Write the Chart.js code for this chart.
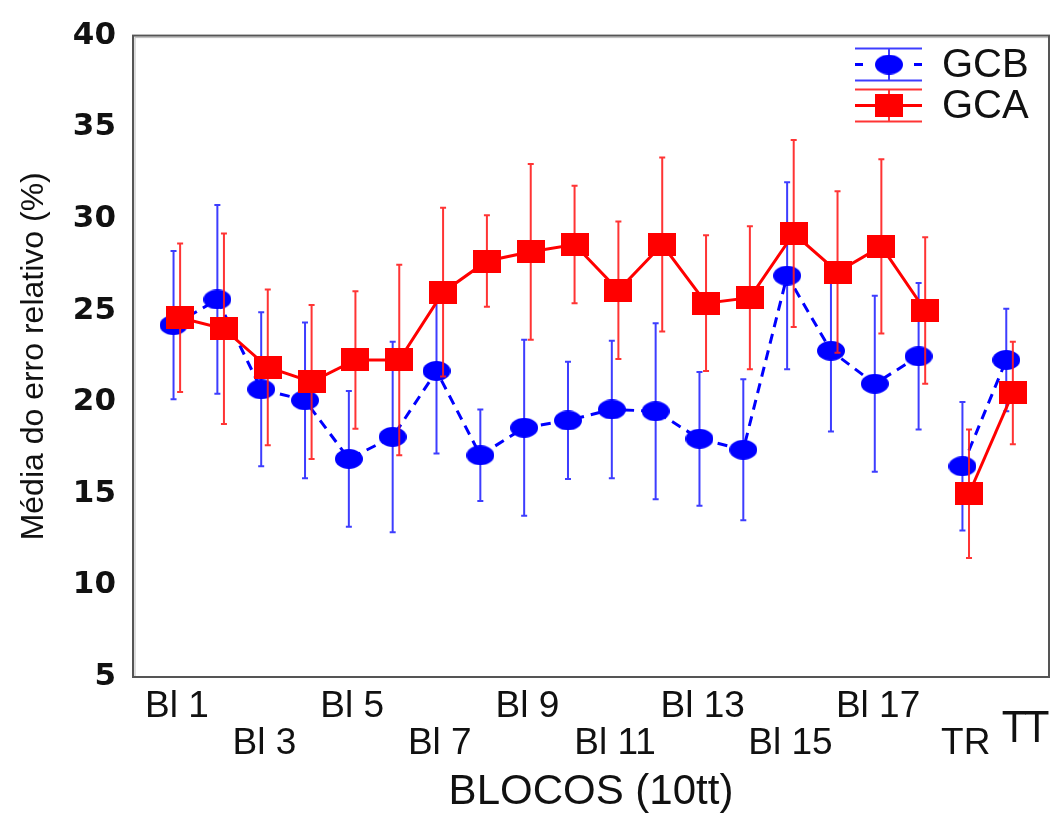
<!DOCTYPE html>
<html><head><meta charset="utf-8">
<script src="https://cdn.jsdelivr.net/npm/chart.js@4.4.1/dist/chart.umd.min.js"></script>
<style>html,body{margin:0;padding:0;background:#fff}#wrap{width:1051px;height:813px}</style>
</head><body><div id="wrap"><canvas id="c" width="1051" height="813"></canvas></div>
<script>
const categories = ['Bl 1','Bl 2','Bl 3','Bl 4','Bl 5','Bl 6','Bl 7','Bl 8','Bl 9','Bl 10','Bl 11','Bl 12','Bl 13','Bl 14','Bl 15','Bl 16','Bl 17','Bl 18','TR','TT'];
const gcbMean = [24.2,25.6,20.7,20.1,16.9,18.1,21.7,17.1,18.6,19.0,19.6,19.5,18.0,17.4,26.9,22.8,21.0,22.5,16.5,22.3];
const gcbErr  = [4.05,5.15,4.2,4.25,3.7,5.2,4.5,2.5,4.8,3.2,3.75,4.8,3.65,3.85,5.1,4.4,4.8,4.0,3.5,2.8];
const gcaMean = [24.6,24.0,21.9,21.1,22.3,22.3,26.0,27.7,28.2,28.6,26.1,28.6,25.4,25.7,29.2,27.1,28.5,25.0,15.0,20.5];
const gcaErr  = [4.05,5.2,4.25,4.2,3.75,5.2,4.6,2.5,4.8,3.2,3.75,4.75,3.7,3.9,5.1,4.4,4.75,4.0,3.5,2.8];
const seriesNames = ['GCB','GCA'];
const yTicks = [5,10,15,20,25,30,35,40];

const BLUE = '#0000ff', RED = '#ff0000';
const BLUE_BAR = 'rgba(40,40,255,0.9)', RED_BAR = 'rgba(255,30,30,0.9)';

function makeEllipse(w,h,color){const c=document.createElement('canvas');c.width=w;c.height=h;const g=c.getContext('2d');g.fillStyle=color;g.beginPath();g.ellipse(w/2,h/2,w/2,h/2,0,0,Math.PI*2);g.fill();return c;}
function makeRect(w,h,color){const c=document.createElement('canvas');c.width=w;c.height=h;const g=c.getContext('2d');g.fillStyle=color;g.fillRect(0,0,w,h);return c;}
const blueDot = makeEllipse(28,20,BLUE);
const redSq = makeRect(28,23,RED);

const errMap = {GCB: {err: gcbErr, color: BLUE_BAR}, GCA: {err: gcaErr, color: RED_BAR}};
const breakAfter = categories.indexOf('Bl 18');

const gcaData = gcaMean.map((v,i)=>({x:i+1+0.075,y:v}));
const gcbData = gcbMean.map((v,i)=>({x:i+1-0.075,y:v}));

const errorBars = {
  id:'errorBars',
  beforeDatasetDraw(chart,args){
    const ds = chart.data.datasets[args.index];
    const info = errMap[ds.label]; if(!info) return;
    const ctx = chart.ctx, ys = chart.scales.y;
    ctx.save(); ctx.strokeStyle = info.color; ctx.lineWidth = 2;
    args.meta.data.forEach((pt,i)=>{
      const v = ds.data[i].y, e = info.err[i];
      const t = ys.getPixelForValue(v+e), b = ys.getPixelForValue(v-e);
      ctx.beginPath(); ctx.moveTo(pt.x,t); ctx.lineTo(pt.x,b);
      ctx.moveTo(pt.x-3,t); ctx.lineTo(pt.x+3,t);
      ctx.moveTo(pt.x-3,b); ctx.lineTo(pt.x+3,b); ctx.stroke();
    });
    ctx.restore();
  }
};

const frameAndLegend = {
  id:'frameAndLegend',
  afterDraw(chart){
    const ctx = chart.ctx, a = chart.chartArea;
    ctx.save();
    ctx.strokeStyle = '#bbb'; ctx.lineWidth = 1;
    ctx.strokeRect(a.left+2, a.top+2, a.right-a.left-2, a.bottom-a.top-2);
    ctx.strokeStyle = '#555'; ctx.lineWidth = 2;
    ctx.strokeRect(a.left, a.top, a.right-a.left, a.bottom-a.top);
    const entries = [
      {name: seriesNames[0], img: blueDot, color: BLUE, bar: BLUE_BAR, dashed: true, cy: a.top+29},
      {name: seriesNames[1], img: redSq, color: RED, bar: RED_BAR, dashed: false, cy: a.top+70}
    ];
    const x0 = a.right-194, x1 = a.right-127, xm = a.right-160;
    entries.forEach(en=>{
      ctx.strokeStyle = en.bar; ctx.lineWidth = 2;
      ctx.beginPath();
      ctx.moveTo(x0,en.cy-16); ctx.lineTo(x1,en.cy-16);
      ctx.moveTo(x0,en.cy+16); ctx.lineTo(x1,en.cy+16);
      ctx.moveTo(xm,en.cy-16); ctx.lineTo(xm,en.cy+16);
      ctx.stroke();
      ctx.strokeStyle = en.color; ctx.lineWidth = 3;
      ctx.beginPath();
      if (en.dashed) { ctx.moveTo(x0,en.cy); ctx.lineTo(x0+8,en.cy); ctx.moveTo(x1-8,en.cy); ctx.lineTo(x1,en.cy); }
      else { ctx.moveTo(x0,en.cy); ctx.lineTo(x1,en.cy); }
      ctx.stroke();
      ctx.drawImage(en.img, xm-en.img.width/2, en.cy-en.img.height/2);
      ctx.fillStyle = '#111'; ctx.font = '40px "Liberation Sans", Arial, sans-serif';
      ctx.textAlign = 'left'; ctx.textBaseline = 'middle';
      ctx.fillText(en.name, a.right-107, en.cy+1);
    });
    const xs = chart.scales.x;
    ctx.fillStyle = '#111'; ctx.font = '42px "Liberation Sans Narrow", "DejaVu Sans Condensed", sans-serif';
    ctx.textAlign = 'center'; ctx.textBaseline = 'middle';
    ctx.fillText(categories[categories.length-1], xs.getPixelForValue(categories.length)+16, a.bottom+54);
    ctx.restore();
  }
};

function tickLabel(value){
  const i = Math.round(value)-1;
  if (i < 0 || i >= categories.length-1) return '';
  if (i % 2 !== 0) return '';
  const row = (i/2) % 2;
  return row === 0 ? [categories[i], ''] : ['', categories[i]];
}

new Chart(document.getElementById('c'), {
  type: 'line',
  data: {
    datasets: [
      { label: seriesNames[1], data: gcaData, borderColor: RED, borderWidth: 3,
        pointStyle: redSq, pointRadius: 10, pointHoverRadius: 10,
        segment: { borderColor: c => c.p0DataIndex === breakAfter ? 'rgba(0,0,0,0)' : RED },
        tension: 0, fill: false },
      { label: seriesNames[0], data: gcbData, borderColor: BLUE, borderWidth: 3, borderDash: [10,7],
        pointStyle: blueDot, pointRadius: 10, pointHoverRadius: 10,
        segment: { borderColor: c => c.p0DataIndex === breakAfter ? 'rgba(0,0,0,0)' : BLUE },
        tension: 0, fill: false }
    ]
  },
  options: {
    responsive: false, animation: false, devicePixelRatio: 1,
    layout: { autoPadding: false, padding: { top: 31, right: 2, left: 0, bottom: 0 } },
    plugins: { legend: { display: false }, tooltip: { enabled: false } },
    scales: {
      x: {
        type: 'linear', min: 0, max: 20.9,
        grid: { display: false, drawTicks: false, tickLength: 0 },
        border: { display: false },
        afterBuildTicks: s => { s.ticks = categories.map((_,i)=>({value:i+1})); },
        afterFit: s => { s.height = 136; s.paddingLeft = 0; s.paddingRight = 0; },
        ticks: { autoSkip: false, maxRotation: 0, minRotation: 0, padding: 11, color: '#111',
          font: { family: '"Liberation Sans", Arial, sans-serif', size: 37, lineHeight: 1.0 },
          callback: v => tickLabel(v) },
        title: { display: true, text: 'BLOCOS (10tt)', color: '#111',
          font: { family: '"Liberation Sans", Arial, sans-serif', size: 42, lineHeight: 1 },
          padding: { top: 0, bottom: 0 } }
      },
      y: {
        min: 5, max: 40,
        grid: { display: false, drawTicks: false, tickLength: 0 },
        border: { display: false },
        afterBuildTicks: s => { s.ticks = yTicks.map(v=>({value:v})); },
        afterFit: s => { s.width = 133; },
        ticks: { padding: 17, color: '#111',
          font: { family: '"DejaVu Sans", sans-serif', size: 31, weight: 'bold' } },
        title: { display: true, text: 'Média do erro relativo (%)', color: '#111',
          font: { family: '"Liberation Sans", Arial, sans-serif', size: 32, lineHeight: 1.2 },
          padding: { top: 15, bottom: 0 } }
      }
    }
  },
  plugins: [errorBars, frameAndLegend]
});
</script>
</body></html>
